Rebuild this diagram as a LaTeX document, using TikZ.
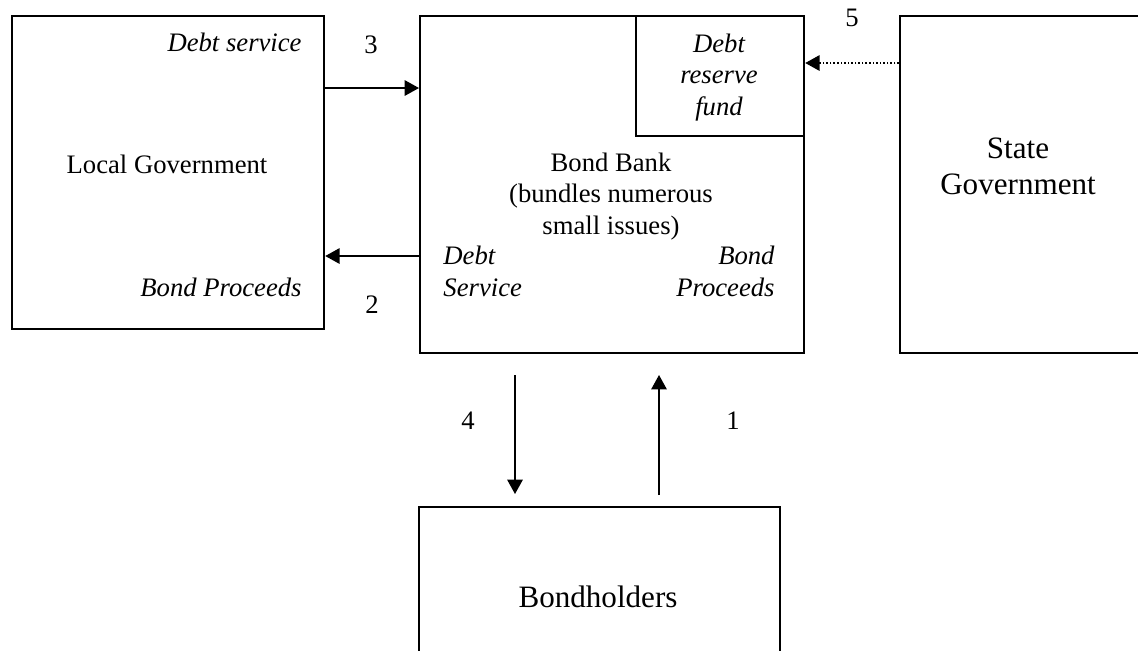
\documentclass[tikz,border=0pt]{standalone}
\usepackage{fontspec}
\setmainfont{Liberation Serif}
\usepackage{tikz}
\usetikzlibrary{arrows.meta, calc, positioning}

\begin{document}
\begin{tikzpicture}[x=0.45pt, y=-0.45pt, >={Triangle[length=6.5pt, width=7pt]},
  box/.style={draw, line width=1pt, rectangle, inner sep=0pt, anchor=north west},
  flow/.style={->, line width=0.7pt},
  lbl/.style={inner sep=0pt, font=\fontsize{12}{14}\selectfont},
  ital/.style={inner sep=0pt, font=\fontsize{12}{14}\selectfont\itshape},
  big/.style={inner sep=0pt, font=\fontsize{14}{15.8}\selectfont, align=center}]

  \clip (0,0) rectangle (1138,650);

  \node[box, minimum width=140.4pt, minimum height=140.85pt] (local) at (11,15) {};
  \node[box, minimum width=172.8pt, minimum height=151.65pt] (bank) at (419,15) {};
  \node[box, minimum width=75.6pt, minimum height=54pt] (reserve) at (635,15) {};
  \node[box, minimum width=117pt, minimum height=151.65pt] (state) at (899,15) {};
  \node[box, minimum width=162.45pt, minimum height=90pt] (holders) at (418,506) {};

  \node[ital, anchor=base east] (lgds) at (302,51) {Debt service};
  \node[lbl, anchor=base] (lgname) at (167,173) {Local Government};
  \node[ital, anchor=base east] (lgbp) at (302,296) {Bond Proceeds};

  \node[lbl, align=center, anchor=base] (bankname) at (611,234) {Bond Bank\\(bundles numerous\\small issues)};
  \node[ital, align=left, anchor=base west] (bankds) at (443,296) {Debt\\Service};
  \node[ital, align=right, anchor=base east] (bankbp) at (775,296) {Bond\\Proceeds};
  \node[ital, align=center, anchor=base] (fund) at (719,115) {Debt\\reserve\\fund};

  \node[big, anchor=base] (statename) at (1018,194) {State\\Government};
  \node[big, anchor=base] (bhname) at (598,607) {Bondholders};

  \node[lbl, anchor=base] (n3) at (371,53) {3};
  \node[lbl, anchor=base] (n2) at (372,313) {2};
  \node[lbl, anchor=base] (n5) at (852,26) {5};
  \node[lbl, anchor=base] (n4) at (468,429) {4};
  \node[lbl, anchor=base] (n1) at (733,429) {1};

  \coordinate (a4s) at (515,375);
  \coordinate (a4e) at (515,494);
  \coordinate (a1s) at (659,495);
  \coordinate (a1e) at (659,375);

  \draw[flow] (local.east |- 0,88) -- (bank.west |- 0,88);
  \draw[flow] (bank.west |- 0,256) -- (local.east |- 0,256);
  \draw[flow, dash pattern=on 0.7pt off 0.9pt] (state.west |- 0,63) -- (bank.east |- 0,63);
  \draw[flow] (a4s) -- (a4e);
  \draw[flow] (a1s) -- (a1e);

\end{tikzpicture}
\end{document}
